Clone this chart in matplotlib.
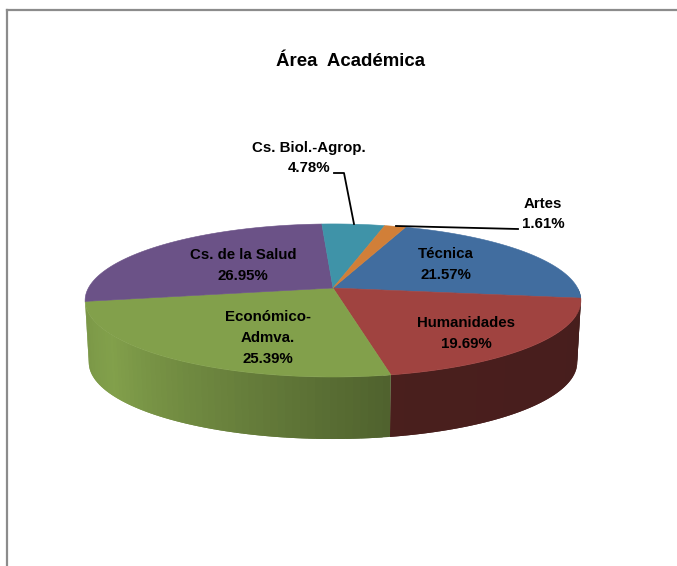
import matplotlib
matplotlib.use('Agg')
import matplotlib.pyplot as plt
from matplotlib.patches import Polygon
import numpy as np

plt.rcParams['font.family'] = ['Liberation Sans', 'DejaVu Sans']

# clockwise from the Artes/Tecnica boundary
categories = ['Técnica', 'Humanidades', 'Económico-\nAdmva.', 'Cs. de la Salud', 'Cs. Biol.-Agrop.', 'Artes']
values = [21.57, 19.69, 25.39, 26.95, 4.78, 1.61]
colors = ['#416d9f', '#a04340', '#82a04b', '#6b5287', '#3f93a8', '#d17f38']
label_pos = [(446, 264.5), (466, 333.5), (268, 338), (243, 265.5), (309, 158), (543, 214)]

start_angle = 20
cx, cy = 333, 288
radius = 244.6
squash = 74.5
persp = 0.163
depth = 62
bottom_scale = 0.985

# side brightness by angle (front of the pie is darkest)
shade_angle = [90, 168.4, 168.6, 200, 235, 262, 270]
shade_value = [0.44, 0.46, 0.61, 0.80, 1.00, 0.93, 0.93]


def rim(theta, r=1.0):
    t = np.radians(theta)
    w = 1 + persp * np.cos(t)
    return cx + r * radius * np.sin(t) / w, cy - r * squash * np.cos(t) / w


fig = plt.figure(figsize=(6.77, 5.66), dpi=100)
ax = fig.add_axes([0, 0, 1, 1])
ax.set_xlim(0, 677)
ax.set_ylim(566, 0)
ax.axis('off')

# outer frame, only top and left show
ax.plot([7, 7], [566, 10], color='#8c8c8c', lw=1.6, solid_joinstyle='miter')
ax.plot([7, 677], [10, 10], color='#8c8c8c', lw=1.6)

bounds = start_angle + np.cumsum([0] + values) * 3.6

# side wall, each strip runs under the next one so no seams show
for i in range(len(values)):
    lo, hi = max(bounds[i], 90), min(bounds[i + 1], 260)
    if hi <= lo:
        continue
    th = np.linspace(lo, hi, int((hi - lo) / 1.5) + 2)
    base = np.array(matplotlib.colors.to_rgb(colors[i]))
    for j in range(len(th) - 1):
        a = th[j]
        b = th[min(j + 2, len(th) - 1)]
        arc = np.linspace(a, b, 5)
        xs, ys = rim(arc)
        xs2 = cx + (xs - cx) * bottom_scale
        pts = list(zip(xs, ys)) + list(zip(xs2[::-1], ys[::-1] + depth))
        col = base * np.interp((th[j] + th[j + 1]) / 2, shade_angle, shade_value)
        ax.add_patch(Polygon(pts, facecolor=col, edgecolor='none'))

# top face
for i in range(len(values)):
    th = np.linspace(bounds[i], bounds[i + 1], 80)
    xs, ys = rim(th)
    pts = [(cx, cy)] + list(zip(xs, ys))
    ax.add_patch(Polygon(pts, facecolor=colors[i], edgecolor=colors[i], lw=0.4))

# leader lines
ax.plot([334, 344, 354], [173, 173, 224], color='black', lw=1.3)
ax.plot([518, 396], [229, 226], color='black', lw=1.3)

for name, val, pos in zip(categories, values, label_pos):
    ax.text(pos[0], pos[1], f'{name}\n{val:.2f}%', ha='center', va='center',
            fontsize=10.8, fontweight='bold', linespacing=1.63, color='black')

ax.text(351, 61, 'Área  Académica', ha='center', va='center', fontsize=13.4, fontweight='bold')

fig.savefig('out.png', dpi=100)
